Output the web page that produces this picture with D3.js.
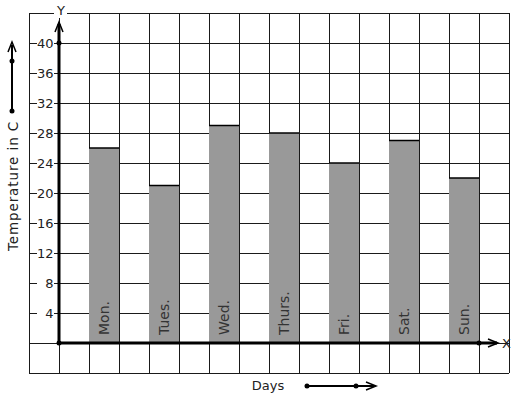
<!DOCTYPE html>
<html>
<head>
<meta charset="utf-8">
<script src="https://cdn.jsdelivr.net/npm/d3@7"></script>
<style>
  body { margin: 0; background: #fff; }
  text { font-family: "DejaVu Sans", sans-serif; }
</style>
</head>
<body>
<svg id="chart-svg"></svg>
<script>
const days = ["Mon.", "Tues.", "Wed.", "Thurs.", "Fri.", "Sat.", "Sun."];
const temps = [26, 21, 29, 28, 24, 27, 22];
const yTicks = [4, 8, 12, 16, 20, 24, 28, 32, 36, 40];

const width = 517, height = 399;

const svg = d3.select("#chart-svg")
  .attr("width", width)
  .attr("height", height);

// grid units: one column = one cell, y axis sits on column 0
var x = d3.scaleLinear().domain([-1, 15]).range([29, 509]);
var y = d3.scaleLinear().domain([-4, 44]).range([373, 13]);

// grid
svg.selectAll("vgrid")
  .data(d3.range(-1, 16))
  .enter().append("line")
  .attr("x1", d => x(d)).attr("x2", d => x(d))
  .attr("y1", y(44)).attr("y2", y(-4))
  .attr("stroke", "#1a1a1a").attr("stroke-width", 1)
  .attr("shape-rendering", "crispEdges");

svg.selectAll("hgrid")
  .data(d3.range(-4, 45, 4))
  .enter().append("line")
  .attr("x1", x(-1)).attr("x2", x(15))
  .attr("y1", d => y(d)).attr("y2", d => y(d))
  .attr("stroke", "#1a1a1a").attr("stroke-width", 1)
  .attr("shape-rendering", "crispEdges");

// bars
const bars = svg.selectAll("bar")
  .data(days)
  .enter().append("g");

bars.append("rect")
  .attr("x", (d, i) => x(2 * i + 1))
  .attr("width", x(2) - x(1))
  .attr("y", (d, i) => y(temps[i]))
  .attr("height", (d, i) => y(0) - y(temps[i]))
  .attr("fill", "#999999")
  .attr("shape-rendering", "crispEdges");

bars.append("line")
  .attr("x1", (d, i) => x(2 * i + 1)).attr("x2", (d, i) => x(2 * i + 2))
  .attr("y1", (d, i) => y(temps[i])).attr("y2", (d, i) => y(temps[i]))
  .attr("stroke", "#000").attr("stroke-width", 1.5);

bars.append("text")
  .attr("transform", (d, i) => "translate(" + (x(2 * i + 1.5) + 5) + "," + (y(0) - 8) + ") rotate(-90)")
  .attr("font-size", 14)
  .attr("fill", "#333")
  .text(d => d);

// tick labels with white background
const tl = svg.selectAll("ytl")
  .data(yTicks)
  .enter().append("g");
tl.append("rect")
  .attr("x", 37).attr("width", 17)
  .attr("y", d => y(d) - 7).attr("height", 14)
  .attr("fill", "#fff");
tl.append("text")
  .attr("x", 53.5).attr("y", d => y(d) + 5)
  .attr("text-anchor", "end")
  .attr("font-size", 13)
  .attr("fill", "#222")
  .text(d => d);

// axes
svg.append("line")
  .attr("x1", x(0)).attr("x2", x(0))
  .attr("y1", y(0)).attr("y2", 24)
  .attr("stroke", "#000").attr("stroke-width", 3);
svg.append("path")
  .attr("d", `M${x(0) - 4},${32} L${x(0)},${22} L${x(0) + 4},${32}`)
  .attr("fill", "none").attr("stroke", "#000").attr("stroke-width", 1.5);

svg.append("line")
  .attr("x1", x(0)).attr("x2", 497)
  .attr("y1", y(0)).attr("y2", y(0))
  .attr("stroke", "#000").attr("stroke-width", 3);
svg.append("path")
  .attr("d", `M${488},${y(0) - 4} L${498},${y(0)} L${488},${y(0) + 4}`)
  .attr("fill", "none").attr("stroke", "#000").attr("stroke-width", 1.5);

[[x(0), y(0)], [x(0), y(40)], [x(14), y(0)]].forEach(p => {
  svg.append("circle").attr("cx", p[0]).attr("cy", p[1]).attr("r", 2.5).attr("fill", "#000");
});

// axis letters
svg.append("rect").attr("x", 54).attr("y", 4).attr("width", 13).attr("height", 14).attr("fill", "#fff");
svg.append("text").attr("x", 61).attr("y", 15).attr("text-anchor", "middle")
  .attr("font-size", 13).attr("fill", "#222").text("Y");
svg.append("text").attr("x", 502).attr("y", y(0) + 5)
  .attr("font-size", 13).attr("fill", "#222").text("X");

// axis titles
svg.append("text")
  .attr("transform", "translate(18,186) rotate(-90)")
  .attr("text-anchor", "middle")
  .attr("font-size", 13.5)
  .attr("letter-spacing", 0.9)
  .attr("fill", "#222")
  .text("Temperature in C");
svg.append("text")
  .attr("x", 268).attr("y", 390)
  .attr("text-anchor", "middle")
  .attr("font-size", 13)
  .attr("fill", "#222")
  .text("Days");

// direction arrows beside the titles
svg.append("line").attr("x1", 12).attr("x2", 12).attr("y1", 111).attr("y2", 45)
  .attr("stroke", "#000").attr("stroke-width", 2);
svg.append("path").attr("d", "M8,52 L12,42 L16,52")
  .attr("fill", "none").attr("stroke", "#000").attr("stroke-width", 1.5);
svg.append("circle").attr("cx", 12).attr("cy", 111).attr("r", 2.5).attr("fill", "#000");
svg.append("circle").attr("cx", 12).attr("cy", 61).attr("r", 2.5).attr("fill", "#000");

svg.append("line").attr("x1", 307).attr("x2", 374).attr("y1", 386).attr("y2", 386)
  .attr("stroke", "#000").attr("stroke-width", 2);
svg.append("path").attr("d", "M366,382 L376,386 L366,390")
  .attr("fill", "none").attr("stroke", "#000").attr("stroke-width", 1.5);
svg.append("circle").attr("cx", 307).attr("cy", 386).attr("r", 2.5).attr("fill", "#000");
svg.append("circle").attr("cx", 356).attr("cy", 386).attr("r", 2.5).attr("fill", "#000");
</script>
</body>
</html>
